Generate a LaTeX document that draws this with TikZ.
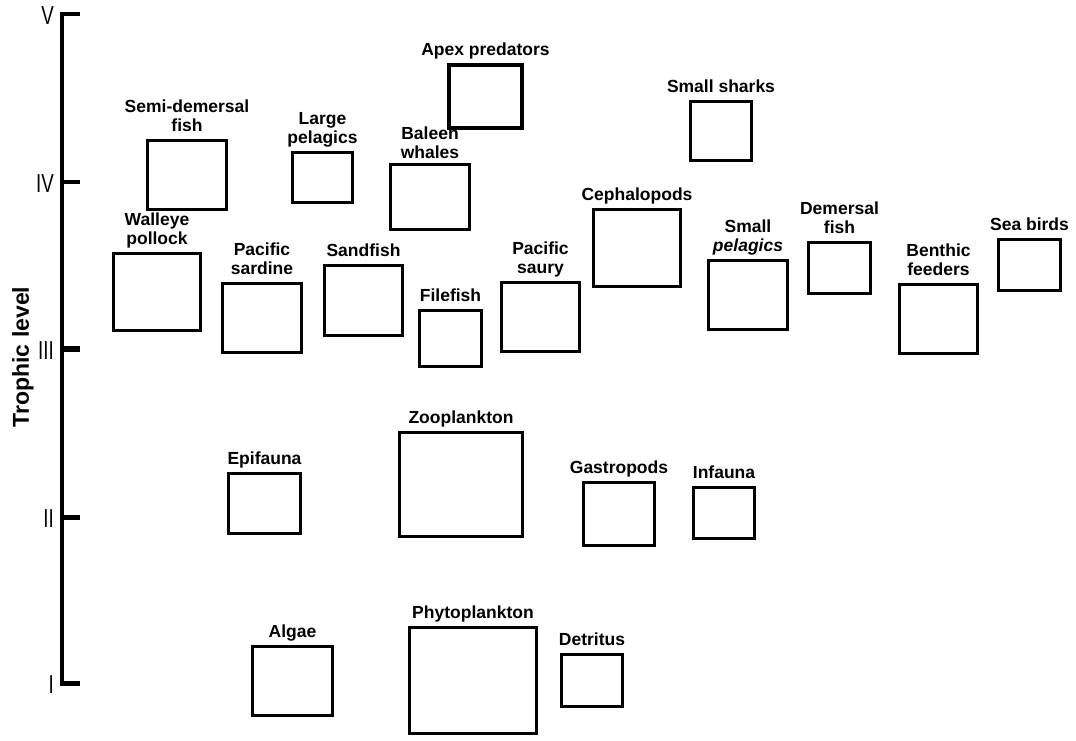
\documentclass[tikz,border=0pt]{standalone}
\usepackage{fontspec}
\setmainfont{Liberation Sans}
\newfontfamily\numfont[FakeStretch=0.72]{Liberation Sans}
\newcommand{\labfont}{\bfseries\fontsize{17.5}{19}\selectfont}

\begin{document}
\begin{tikzpicture}[x=1pt,y=-1pt,
        pool/.style args={#1/#2}{draw, line width=3.5pt, inner sep=0pt, outer sep=0pt,
              minimum width=#1, minimum height=#2},
        every label/.style={font=\labfont, align=center, inner sep=2pt, text depth=0pt},
        label distance=7pt,
        level/.style={font=\numfont\fontsize{26}{26}\selectfont, anchor=east, inner sep=0pt},
    ]
    \useasboundingbox (0,0) rectangle (1076,740);
    % axis
    \draw[line width=4.5pt] (62,12) -- (62,685);
    \foreach \y/\n/\w in {14/V/3.5pt,182/IV/3.5pt,349/III/6pt,517/II/5pt,683/I/5pt} {
        \coordinate (t\n) at (60,\y);
        \draw[line width=\w] (t\n) -- ++(20,0);
        \node[level] (n\n) at (54,\y+2) {\n};
    }
    \node[rotate=90, font=\bfseries\fontsize{23}{23}\selectfont] (ylab) at (23,357) {Trophic level};
    % level IV and above
    \node[pool=73/63, label={above:Apex predators}] (apex) at (485.5,96.5) {};
    \node[pool=61/59, label={above:Small sharks}] (sharks) at (721,131) {};
    \node[pool=79/69, label={above:Semi-demersal\\fish}] (semidem) at (187,175) {};
    \node[pool=60/50, label={above:Large\\pelagics}] (largepel) at (322.5,177.5) {};
    \node[pool=79/65, label={[label distance=4pt]above:Baleen\\whales}] (baleen) at (430,197) {};
    % level III
    \node[pool=87/77, label={above:Walleye\\pollock}] (walleye) at (157,292) {};
    \node[pool=79/69, label={above:Pacific\\sardine}] (sardine) at (262,318) {};
    \node[pool=78/70, label={above:Sandfish}] (sandfish) at (363.5,300.5) {};
    \node[pool=62/56, label={above:Filefish}] (filefish) at (450.5,338.5) {};
    \node[pool=78/69, label={above:Pacific\\saury}] (saury) at (540.5,317) {};
    \node[pool=87/77, label={above:Cephalopods}] (cephalo) at (637,248) {};
    \node[pool=79/69, label={above:Small\\\textit{pelagics}}] (smallpel) at (748,295) {};
    \node[pool=62/51, label={above:Demersal\\fish}] (demersal) at (839.5,268) {};
    \node[pool=78/69, label={above:Benthic\\feeders}] (benthic) at (938.5,319) {};
    \node[pool=62/51, label={above:Sea birds}] (seabirds) at (1029.5,265) {};
    % level II
    \node[pool=72/60, label={above:Epifauna}] (epifauna) at (264.5,503.5) {};
    \node[pool=123/104, label={above:Zooplankton}] (zoo) at (461,484.5) {};
    \node[pool=71/63, label={above:Gastropods}] (gastro) at (619,514) {};
    \node[pool=61/51, label={above:Infauna}] (infauna) at (724,513) {};
    % level I
    \node[pool=80/69, label={above:Algae}] (algae) at (292.5,681) {};
    \node[pool=127/106, label={above:Phytoplankton}] (phyto) at (473,680.5) {};
    \node[pool=61/52, label={above:Detritus}] (detritus) at (592,680.5) {};
\end{tikzpicture}
\end{document}
